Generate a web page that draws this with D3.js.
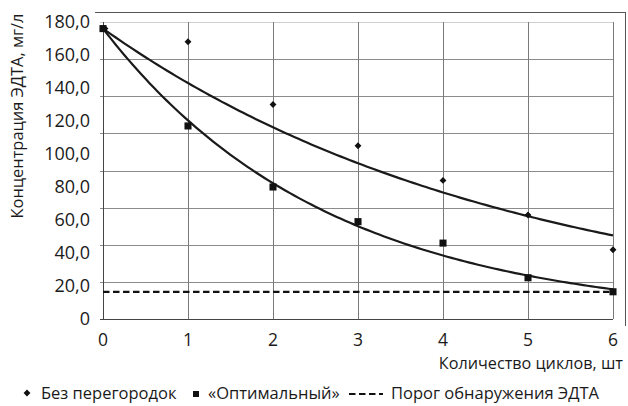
<!DOCTYPE html>
<html>
<head>
<meta charset="utf-8">
<script src="https://cdn.jsdelivr.net/npm/d3@7"></script>
<style>
  html, body { margin: 0; padding: 0; background: #fff; }
  svg { display: block; font-family: "Open Sans", "Noto Sans", sans-serif; }
</style>
</head>
<body>
<svg id="chart" width="628" height="406"></svg>
<script>
// Number of wash cycles
const cycles = [0, 1, 2, 3, 4, 5, 6];
// EDTA concentration, mg/l
const noBaffles = [176, 168, 130, 105, 84, 63, 42];   // "Без перегородок"
const optimal   = [176, 117, 80, 59, 46, 25, 16.5];   // «Оптимальный»
const threshold = 16.5;                                // detection limit
const yTickValues = [0, 20, 40, 60, 80, 100, 120, 140, 160, 180];
const yGridValues = [0, 22.5, 45, 67.5, 90, 112.5, 135, 157.5, 180];
const xTickValues = [0, 1, 2, 3, 4, 5, 6];

const svg = d3.select("#chart");
const x = d3.scaleLinear().domain([0, 6]).range([103, 613]);
const y = d3.scaleLinear().domain([0, 180]).range([319, 22]);

const fmt = v => v === 0 ? "0" : d3.format(".1f")(v).replace(".", ",");

// Exponential trend through the first point: C = C0 * exp(-k n)
function expTrend(vals) {
  const c0 = vals[0];
  let sxy = 0, sxx = 0;
  cycles.forEach((n, i) => {
    if (n === 0) return;
    sxy += n * Math.log(vals[i] / c0);
    sxx += n * n;
  });
  const k = sxy / sxx;
  return d3.range(0, 6.001, 0.05).map(n => [n, c0 * Math.exp(k * n)]);
}

// outer frame (top and right edges)
svg.append("line").attr("x1", 95).attr("x2", 625).attr("y1", 12.5).attr("y2", 12.5)
  .attr("stroke", "#555").attr("stroke-width", 1);
svg.append("line").attr("x1", 625.5).attr("x2", 625.5).attr("y1", 12).attr("y2", 326)
  .attr("stroke", "#555").attr("stroke-width", 1);

// horizontal grid
svg.append("g").selectAll("line").data(yGridValues).join("line")
  .attr("x1", 100).attr("x2", x(6))
  .attr("y1", d => Math.round(y(d)) + 0.5).attr("y2", d => Math.round(y(d)) + 0.5)
  .attr("stroke", d => d === 180 ? "#cfcfcf" : (d === 0 ? "#444" : "#8c8c8c"))
  .attr("stroke-width", 1);

// vertical grid
svg.append("g").selectAll("line").data(xTickValues).join("line")
  .attr("x1", d => Math.round(x(d)) + 0.5).attr("x2", d => Math.round(x(d)) + 0.5)
  .attr("y1", y(180)).attr("y2", y(0))
  .attr("stroke", d => d === 0 ? "#444" : "#7a7a7a")
  .attr("stroke-width", 1);

// y tick labels
svg.append("g").selectAll("text").data(yTickValues).join("text")
  .attr("x", 90).attr("y", d => y(d)).attr("dy", "0.35em")
  .attr("text-anchor", "end").attr("font-size", 18).attr("fill", "#1a1a1a")
  .text(fmt);

// x tick labels
svg.append("g").selectAll("text").data(xTickValues).join("text")
  .attr("x", d => x(d)).attr("y", 346)
  .attr("text-anchor", "middle").attr("font-size", 17.5).attr("fill", "#1a1a1a")
  .text(d => d);

// axis titles
svg.append("text").attr("x", 623).attr("y", 369).attr("text-anchor", "end")
  .attr("font-size", 16.2).attr("fill", "#1a1a1a").text("Количество циклов, шт");
svg.append("text").attr("transform", "translate(23,116) rotate(-90)")
  .attr("text-anchor", "middle").attr("font-size", 16.4).attr("fill", "#1a1a1a")
  .text("Концентрация ЭДТА, мг/л");

// detection limit
svg.append("line").attr("x1", x(0)).attr("x2", x(6))
  .attr("y1", y(threshold)).attr("y2", y(threshold))
  .attr("stroke", "#111").attr("stroke-width", 2.2).attr("stroke-dasharray", "6.5,3.5");

// trend curves
const line = d3.line().x(d => x(d[0])).y(d => y(d[1])).curve(d3.curveLinear);
[noBaffles, optimal].forEach(vals => {
  svg.append("path").datum(expTrend(vals)).attr("d", line)
    .attr("fill", "none").attr("stroke", "#1a1a1a").attr("stroke-width", 2.2);
});

// data points
svg.append("g").selectAll("path").data(cycles).join("path")
  .attr("transform", (d, i) => `translate(${x(d)},${y(optimal[i])})`)
  .attr("d", d3.symbol(d3.symbolSquare, 50)).attr("fill", "#111");
svg.append("g").selectAll("path").data(cycles).join("path")
  .attr("transform", (d, i) => `translate(${x(d) + (d === 0 ? 2 : 0)},${y(noBaffles[i])})`)
  .attr("d", d3.symbol(d3.symbolDiamond2, 30)).attr("fill", "#111");

// legend
const lg = svg.append("g").attr("font-size", 16.5).attr("fill", "#1a1a1a");
lg.append("path").attr("transform", "translate(27,393)")
  .attr("d", d3.symbol(d3.symbolDiamond2, 30)).attr("fill", "#111");
lg.append("text").attr("x", 41).attr("y", 393).attr("dy", "0.35em").text("Без перегородок");
lg.append("path").attr("transform", "translate(196,394)")
  .attr("d", d3.symbol(d3.symbolSquare, 36)).attr("fill", "#111");
lg.append("text").attr("x", 208).attr("y", 393).attr("dy", "0.35em").text("«Оптимальный»");
lg.append("line").attr("x1", 349).attr("x2", 383).attr("y1", 394).attr("y2", 394)
  .attr("stroke", "#111").attr("stroke-width", 2.2).attr("stroke-dasharray", "6.5,3.5");
lg.append("text").attr("x", 391).attr("y", 393).attr("dy", "0.35em").text("Порог обнаружения ЭДТА");
</script>
</body>
</html>
